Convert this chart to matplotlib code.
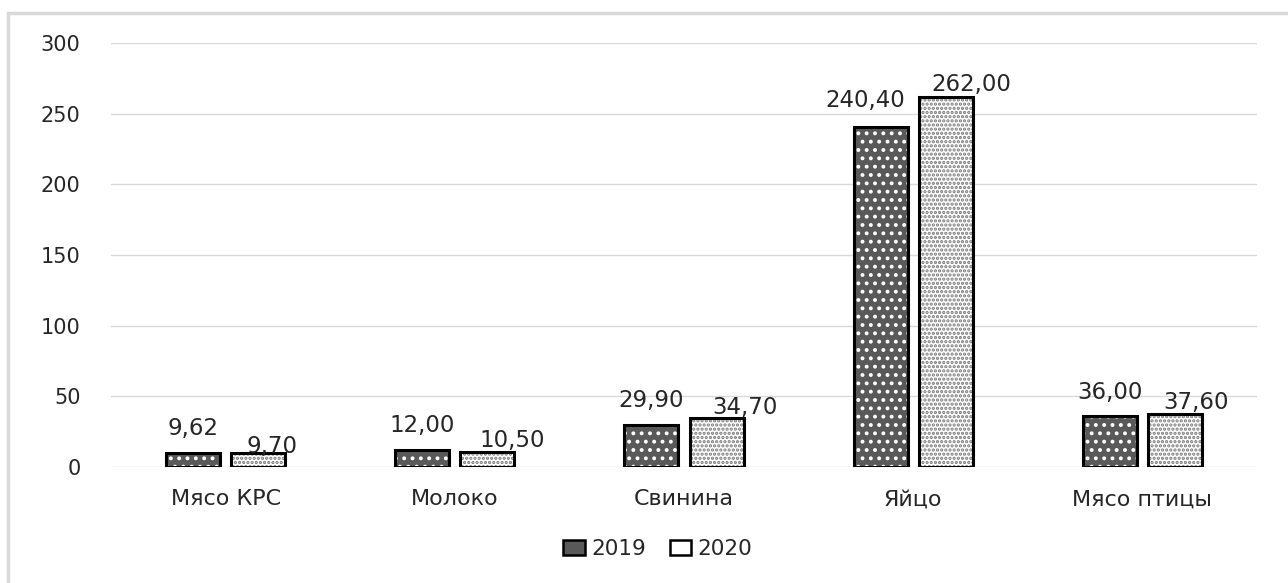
import numpy as np
import matplotlib; matplotlib.use('Agg'); import matplotlib.pyplot as plt
from matplotlib.patches import Patch, Rectangle

plt.rcParams['font.family'] = ['DejaVu Sans']
plt.rcParams['hatch.linewidth'] = 1.6

categories = ['Мясо КРС', 'Молоко', 'Свинина', 'Яйцо', 'Мясо птицы']
v2019 = [9.62, 12.00, 29.90, 240.40, 36.00]
v2020 = [9.70, 10.50, 34.70, 262.00, 37.60]
series = ['2019', '2020']
yticks = [0, 50, 100, 150, 200, 250, 300]

# label offsets (pixels) from top-centre of each bar, as Excel placed them
off2019 = [(0, 25), (0, 25), (0, 24), (-15, 27), (0, 24)]
off2020 = [(14, 7), (25, 12), (28, 10), (26, 12), (21, 11)]

fig = plt.figure(figsize=(12.88, 5.83), dpi=100)
ax = fig.add_axes([111/1288, 1-467/583, (1257-111)/1288, (467-43)/583])

x = np.arange(len(categories)); w = 0.236; d = 0.142
dark, dots2020 = '#595959', '#7a7a7a'
# fill + hatch, then black outline on top
ax.bar(x-d, v2019, w, color=dark, edgecolor='white', hatch='..', lw=0, zorder=2)
ax.bar(x-d, v2019, w, fill=False, edgecolor='black', lw=2.2, zorder=3)
ax.bar(x+d, v2020, w, color='white', edgecolor=dots2020, hatch='....', lw=0, zorder=2)
ax.bar(x+d, v2020, w, fill=False, edgecolor='black', lw=2.2, zorder=3)

fmt = lambda v: f'{v:.2f}'.replace('.', ',')
for xs, vals, offs in ((x-d, v2019, off2019), (x+d, v2020, off2020)):
    for xi, v, (dx, dy) in zip(xs, vals, offs):
        ax.annotate(fmt(v), (xi, v), xytext=(dx, dy), textcoords='offset pixels',
                    ha='center', va='center', fontsize=16.5, color='#262626')

ax.set_xlim(-0.5, len(categories)-0.5); ax.set_ylim(0, 300)
ax.set_yticks(yticks)
ax.set_xticks(x); ax.set_xticklabels(categories)
ax.tick_params(axis='y', length=0, pad=22, labelsize=15, labelcolor='#262626')
ax.tick_params(axis='x', length=0, pad=16, labelsize=16, labelcolor='#262626')
ax.grid(axis='y', color='#d9d9d9', lw=1.0, zorder=0)
for s in ax.spines.values(): s.set_visible(False)

handles = [Patch(facecolor=dark, edgecolor='black', lw=1.8, label=series[0]),
           Patch(facecolor='white', edgecolor='black', lw=1.8, label=series[1])]
fig.legend(handles=handles, loc='center', bbox_to_anchor=(658/1288, 1-549/583), ncol=2,
           frameon=False, fontsize=15.5, handlelength=1.0, handleheight=0.7,
           handletextpad=0.3, columnspacing=1.1, labelcolor='#262626')

fig.add_artist(Rectangle((8/1288, -0.1), 1.2, 1-13/583+0.1, transform=fig.transFigure,
                         fill=False, edgecolor='#d9d9d9', lw=2.5))
fig.savefig('out.png', dpi=100)
